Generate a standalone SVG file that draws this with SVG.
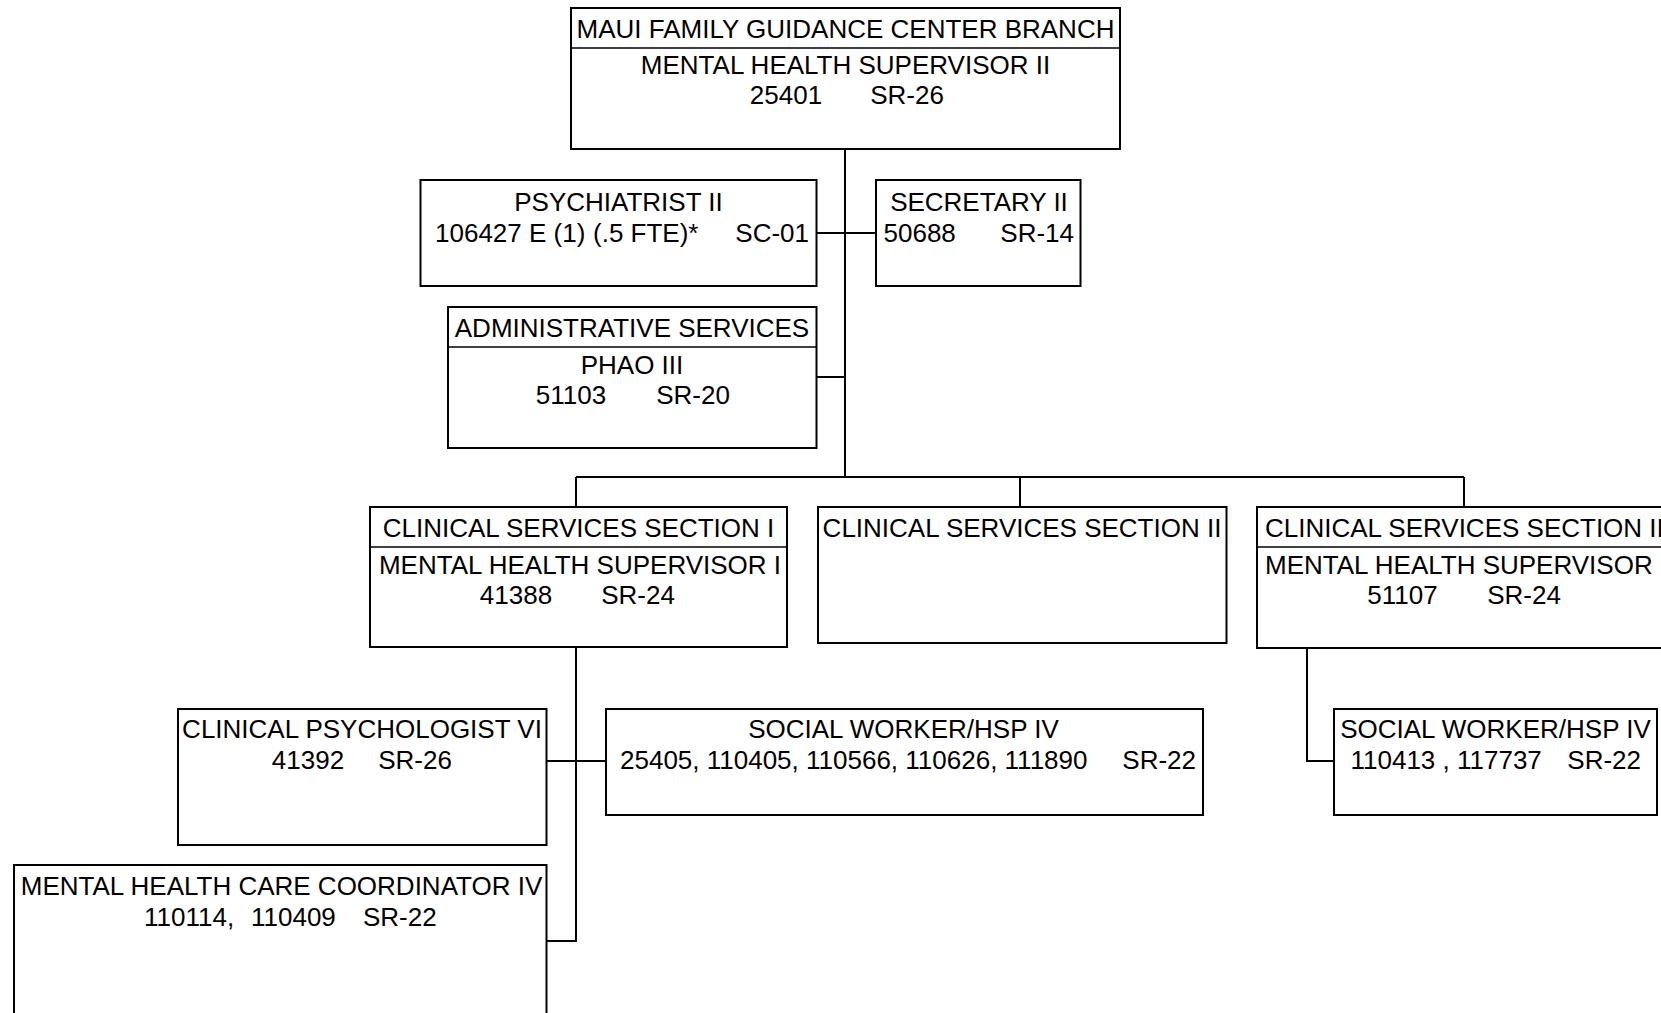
<svg xmlns="http://www.w3.org/2000/svg" width="1661" height="1013" viewBox="0 0 1661 1013">
  <style>
    .box { fill: #fff; stroke: #000; stroke-width: 2; }
    .div { stroke: #000; stroke-width: 1.6; }
    .ln { fill: none; stroke: #000; stroke-width: 2; }
    text { font-family: "Liberation Sans", Arial, Helvetica, sans-serif; font-size: 26px; fill: #000; }
    .c { text-anchor: middle; }
    .e { text-anchor: end; }
  </style>
  <rect width="1661" height="1013" fill="#fff"/>

  <!-- reporting lines -->
  <g id="connectors">
    <path class="ln" d="M845 149 V477"/>
    <path class="ln" d="M817 233 H876"/>
    <path class="ln" d="M817 377 H845"/>
    <path class="ln" d="M576 477 H1464"/>
    <path class="ln" d="M576 477 V507"/>
    <path class="ln" d="M1020 477 V507"/>
    <path class="ln" d="M1464 477 V507"/>
    <path class="ln" d="M576 647 V941 H547"/>
    <path class="ln" d="M547 761 H606"/>
    <path class="ln" d="M1307 648 V761 H1334"/>
  </g>

  <g id="branch-head">
    <rect class="box" x="571" y="8" width="549" height="141"/>
    <line class="div" x1="571" y1="48" x2="1120" y2="48"/>
    <text class="c" x="845.5" y="38">MAUI FAMILY GUIDANCE CENTER BRANCH</text>
    <text class="c" x="845.5" y="74">MENTAL HEALTH SUPERVISOR II</text>
    <text class="c" x="786" y="104">25401</text>
    <text class="c" x="907" y="104">SR-26</text>
  </g>

  <g id="psychiatrist">
    <rect class="box" x="420.5" y="180" width="396" height="106"/>
    <text class="c" x="618.5" y="211">PSYCHIATRIST II</text>
    <text x="435" y="242">106427 E (1)</text>
    <text x="593" y="242">(.5 FTE)*</text>
    <text class="e" x="809" y="242">SC-01</text>
  </g>

  <g id="secretary">
    <rect class="box" x="876" y="180" width="204.5" height="106"/>
    <text class="c" x="979" y="211">SECRETARY II</text>
    <text x="883.5" y="242">50688</text>
    <text class="e" x="1074" y="242">SR-14</text>
  </g>

  <g id="admin-services">
    <rect class="box" x="448" y="307" width="368.5" height="141"/>
    <line class="div" x1="448" y1="347" x2="816.5" y2="347"/>
    <text class="c" x="632" y="337">ADMINISTRATIVE SERVICES</text>
    <text class="c" x="632" y="374">PHAO III</text>
    <text class="c" x="571" y="404">51103</text>
    <text class="c" x="693" y="404">SR-20</text>
  </g>

  <g id="section-1">
    <rect class="box" x="370" y="507" width="417" height="140"/>
    <line class="div" x1="370" y1="547" x2="787" y2="547"/>
    <text class="c" x="578.5" y="537">CLINICAL SERVICES SECTION I</text>
    <text class="c" x="580" y="574">MENTAL HEALTH SUPERVISOR I</text>
    <text class="c" x="516" y="604">41388</text>
    <text class="c" x="638" y="604">SR-24</text>
  </g>

  <g id="section-2">
    <rect class="box" x="818" y="507" width="408.5" height="136"/>
    <text class="c" x="1022" y="537">CLINICAL SERVICES SECTION II</text>
  </g>

  <g id="section-3">
    <rect class="box" x="1257" y="507" width="420" height="141"/>
    <line class="div" x1="1257" y1="547" x2="1677" y2="547"/>
    <text x="1265" y="537">CLINICAL SERVICES SECTION III</text>
    <text x="1265" y="574">MENTAL HEALTH SUPERVISOR</text>
    <text class="c" x="1402.5" y="604">51107</text>
    <text class="c" x="1524" y="604">SR-24</text>
  </g>

  <g id="clinical-psychologist">
    <rect class="box" x="178" y="709" width="368.5" height="136"/>
    <text class="c" x="362" y="738">CLINICAL PSYCHOLOGIST VI</text>
    <text class="c" x="308" y="769">41392</text>
    <text class="c" x="415" y="769">SR-26</text>
  </g>

  <g id="social-worker-1">
    <rect class="box" x="606" y="709" width="597" height="106"/>
    <text class="c" x="903.5" y="738">SOCIAL WORKER/HSP IV</text>
    <text x="620" y="769">25405, 110405, 110566, 110626, 111890</text>
    <text class="e" x="1196" y="769">SR-22</text>
  </g>

  <g id="social-worker-3">
    <rect class="box" x="1334" y="709" width="323" height="106"/>
    <text class="c" x="1495.5" y="738">SOCIAL WORKER/HSP IV</text>
    <text x="1350.5" y="769">110413 , 117737</text>
    <text class="e" x="1641" y="769">SR-22</text>
  </g>

  <g id="care-coordinator">
    <rect class="box" x="14" y="865" width="532.5" height="160"/>
    <text class="c" x="281.5" y="895">MENTAL HEALTH CARE COORDINATOR IV</text>
    <text x="144" y="926">110114,</text>
    <text x="251" y="926">110409</text>
    <text x="363" y="926">SR-22</text>
  </g>
</svg>
